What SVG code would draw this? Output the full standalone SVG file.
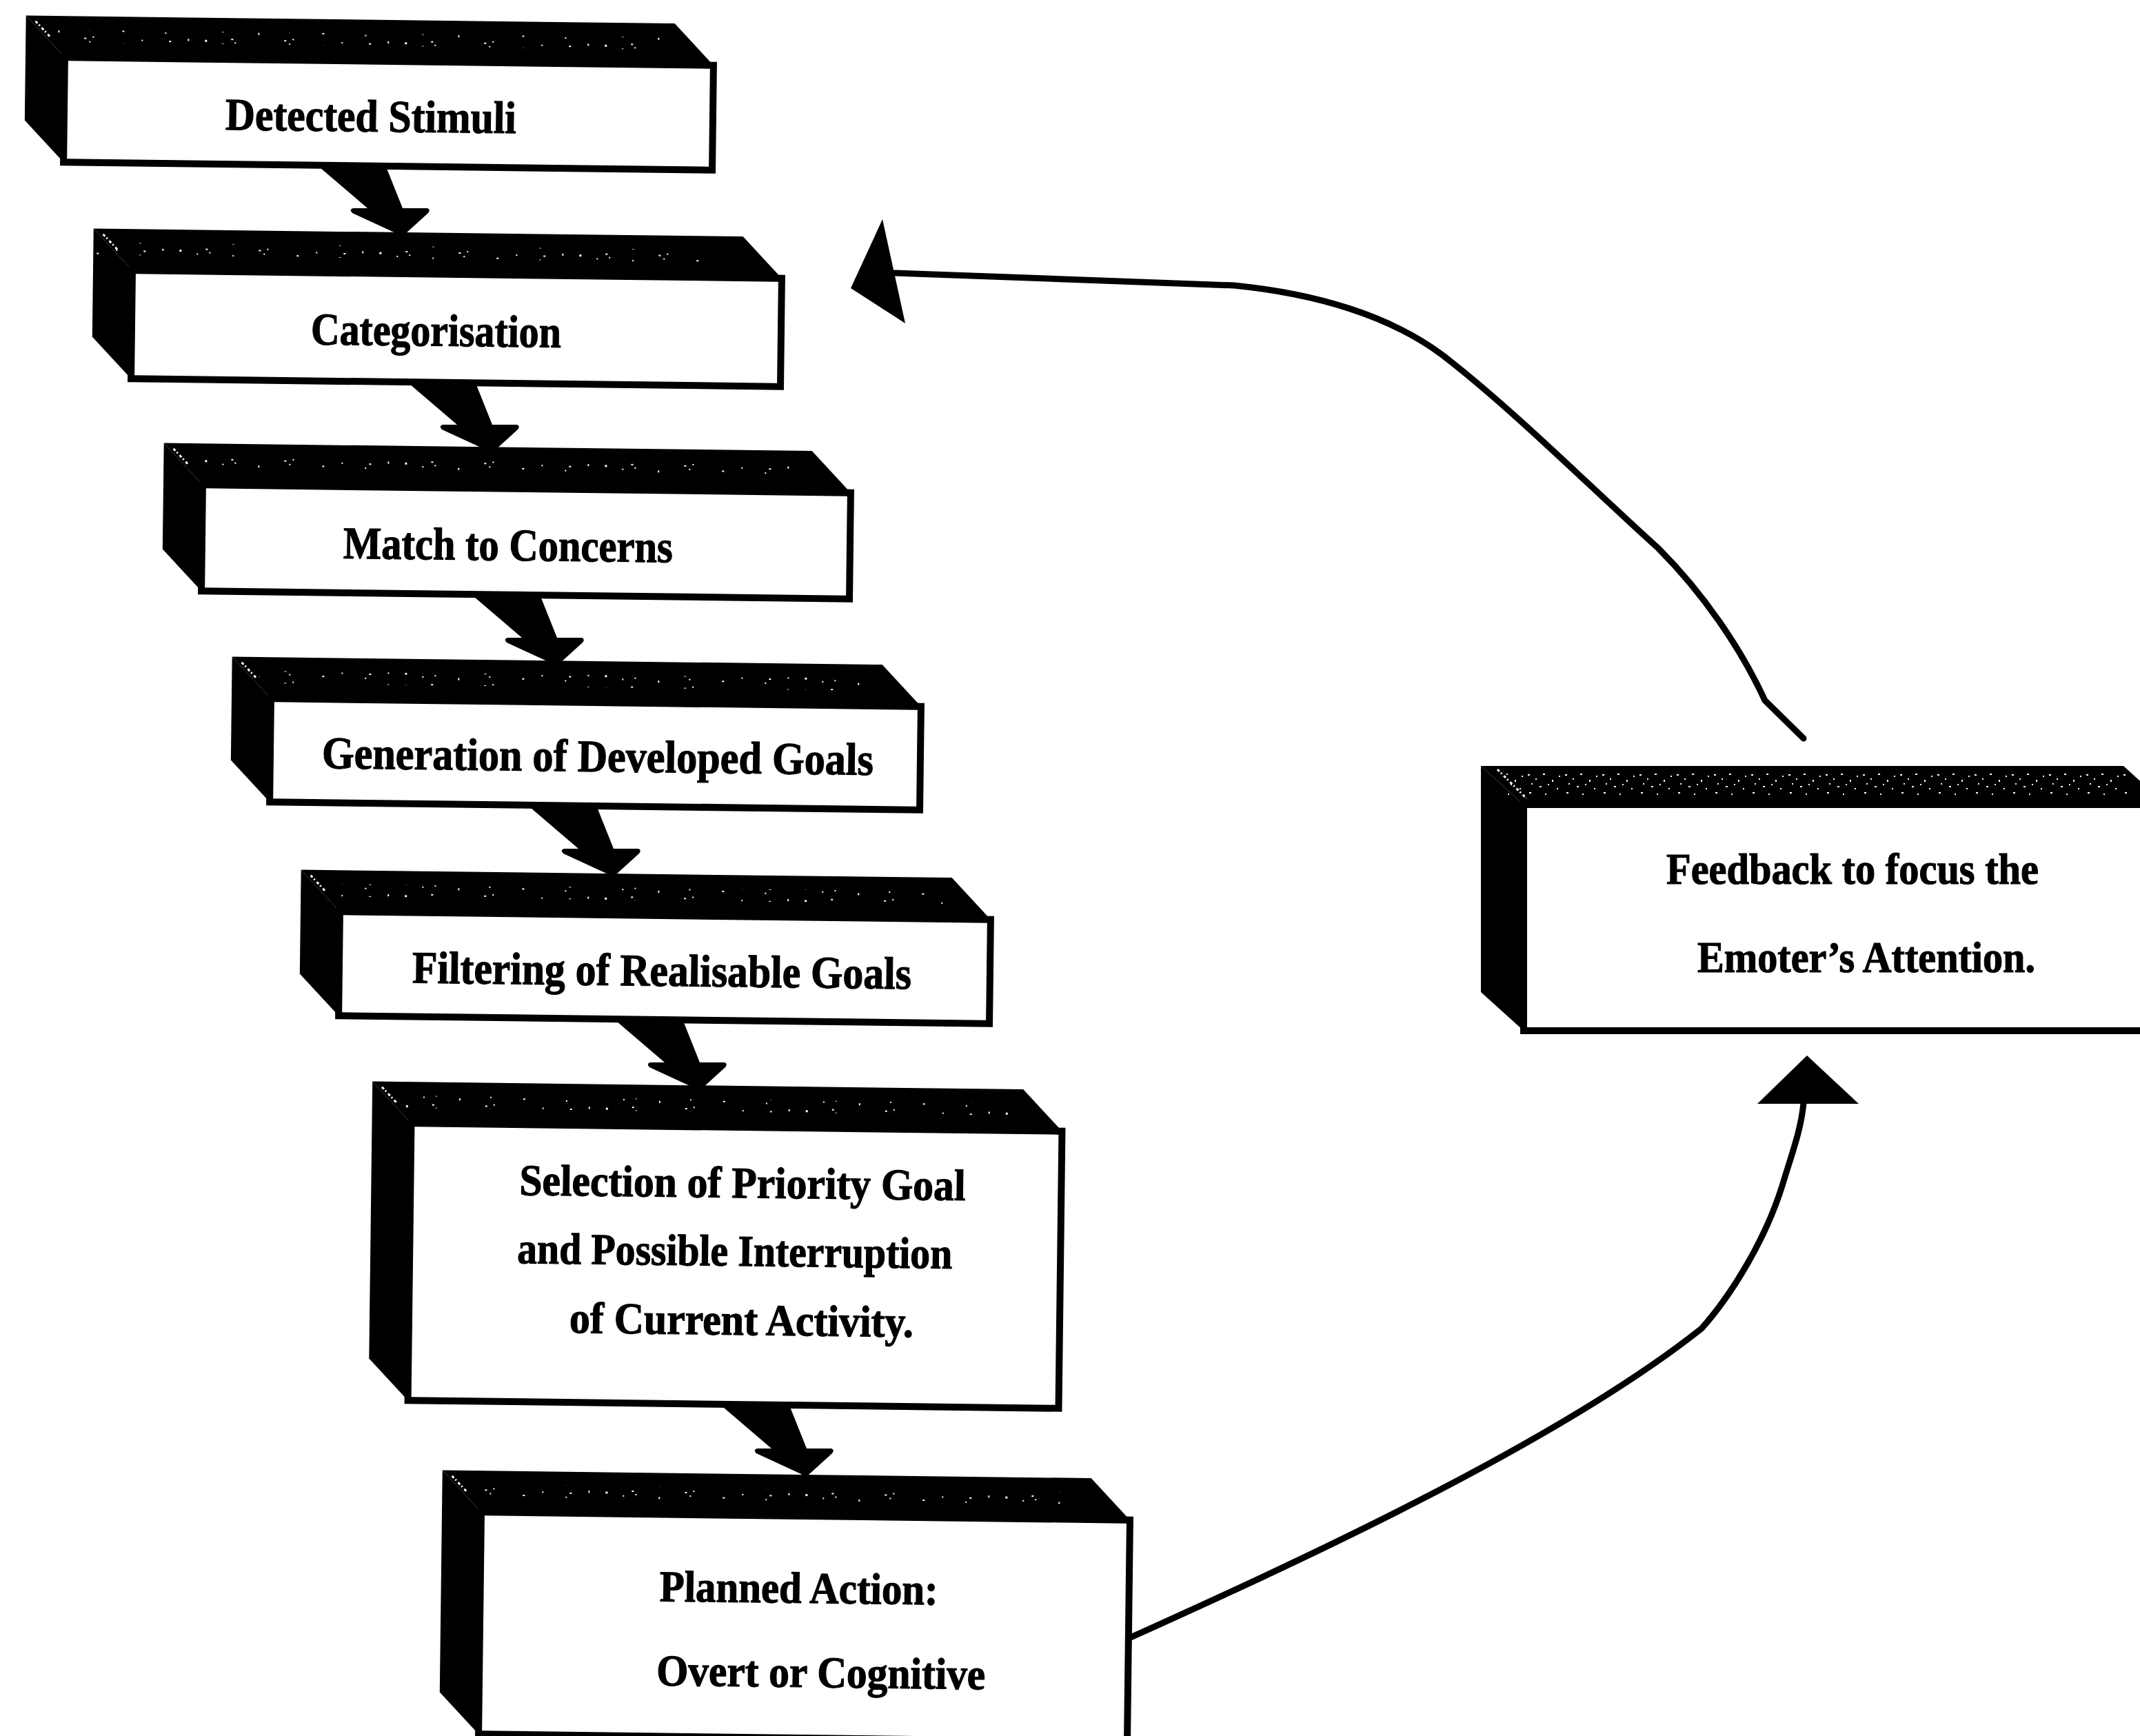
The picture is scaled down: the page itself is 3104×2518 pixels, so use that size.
<svg xmlns="http://www.w3.org/2000/svg" xmlns:xlink="http://www.w3.org/1999/xlink" width="3104" height="2518" viewBox="0 0 3104 2518">
  <defs>
    <style>
      .face { fill: #000; }
      .front { fill: #fff; stroke: #000; stroke-width: 10; }
      .lbl { font-family: "Liberation Serif", "Times New Roman", serif; font-weight: bold; font-size: 66px; fill: #000; stroke: #000; stroke-width: 1.2; }
      .lbl2 { font-family: "Liberation Serif", "Times New Roman", serif; font-weight: bold; font-size: 64px; fill: #000; stroke: #000; stroke-width: 1.2; }
      .hi { stroke: #fff; stroke-width: 3; stroke-dasharray: 4 3 2 4; fill: none; }
      .curve { fill: none; stroke: #000; stroke-width: 9; stroke-linecap: round; stroke-linejoin: round; }
    </style>
    <!-- sparse, irregular white speckle used on the bevelled top faces -->
    <pattern id="speckle" width="290" height="18" patternUnits="userSpaceOnUse">
      <rect x="6" y="7" width="3" height="3" fill="#fff"/>
      <rect x="31" y="12" width="2" height="2" fill="#fff"/>
      <rect x="44" y="5" width="3" height="2" fill="#fff"/>
      <rect x="49" y="10" width="2" height="2" fill="#fff"/>
      <rect x="83" y="14" width="2" height="3" fill="#fff"/>
      <rect x="121" y="6" width="3" height="2" fill="#fff"/>
      <rect x="128" y="11" width="2" height="2" fill="#fff"/>
      <rect x="133" y="4" width="2" height="2" fill="#fff"/>
      <rect x="176" y="13" width="3" height="2" fill="#fff"/>
      <rect x="204" y="8" width="2" height="2" fill="#fff"/>
      <rect x="238" y="15" width="2" height="2" fill="#fff"/>
      <rect x="244" y="9" width="3" height="2" fill="#fff"/>
      <rect x="271" y="6" width="2" height="3" fill="#fff"/>
    </pattern>
    <!-- denser speckle for the feedback box top -->
    <pattern id="speckleDense" width="54" height="40" patternUnits="userSpaceOnUse">
      <rect x="2" y="3" width="3" height="2" fill="#fff"/>
      <rect x="13" y="9" width="2" height="2" fill="#fff"/>
      <rect x="24" y="2" width="3" height="2" fill="#fff"/>
      <rect x="37" y="11" width="2" height="3" fill="#fff"/>
      <rect x="47" y="5" width="2" height="2" fill="#fff"/>
      <rect x="7" y="16" width="2" height="2" fill="#fff"/>
      <rect x="19" y="20" width="3" height="2" fill="#fff"/>
      <rect x="31" y="17" width="2" height="2" fill="#fff"/>
      <rect x="44" y="23" width="2" height="2" fill="#fff"/>
      <rect x="4" y="29" width="3" height="2" fill="#fff"/>
      <rect x="27" y="31" width="2" height="2" fill="#fff"/>
      <rect x="50" y="34" width="2" height="2" fill="#fff"/>
    </pattern>
    <!-- fat 3-D style step arrow, origin at top-left of the shaft -->
    <path id="fat-arrow" d="M0,-6 L101,-6 L127,59 L163,59 Q168,61 164,66 L131,96 L125,102 L119,96 L54,66 Q49,61 55,59 L76,59 Z"/>
  </defs>

  <rect width="3104" height="2518" fill="#fff"/>

  <!-- step boxes, left column -->
  <g id="detected-stimuli" transform="rotate(0.7 563 165)">
    <polygon class="face" points="36,29 977,29 1034,89 93,89"/>
    <polygon class="face" points="36,29 93,89 93,241 36,181"/>
    <rect x="76" y="49" width="890" height="18" fill="url(#speckle)"/>
    <line class="hi" x1="50" y1="37" x2="72" y2="60"/>
    <rect class="front" x="93" y="89" width="941" height="152"/>
    <text class="lbl" x="327" y="191" textLength="422" lengthAdjust="spacingAndGlyphs">Detected Stimuli</text>
  </g>

  <g id="categorisation" transform="rotate(0.7 662 476)">
    <polygon class="face" points="134,338 1076,338 1133,398 191,398"/>
    <polygon class="face" points="134,338 191,398 191,555 134,495"/>
    <rect x="174" y="358" width="890" height="18" fill="url(#speckle)" transform="translate(-37 0)"/>
    <line class="hi" x1="148" y1="346" x2="170" y2="369"/>
    <rect class="front" x="191" y="398" width="942" height="157"/>
    <text class="lbl" x="451" y="502" textLength="363" lengthAdjust="spacingAndGlyphs">Categorisation</text>
  </g>

  <g id="match-to-concerns" transform="rotate(0.7 763 786)">
    <polygon class="face" points="236,649 1176,649 1233,709 293,709"/>
    <polygon class="face" points="236,649 293,709 293,863 236,803"/>
    <rect x="276" y="669" width="888" height="18" fill="url(#speckle)"/>
    <line class="hi" x1="250" y1="657" x2="272" y2="680"/>
    <rect class="front" x="293" y="709" width="940" height="154"/>
    <text class="lbl" x="498" y="813" textLength="478" lengthAdjust="spacingAndGlyphs">Match to Concerns</text>
  </g>

  <g id="developed-goals" transform="rotate(0.7 863 1094)">
    <polygon class="face" points="335,959 1278,959 1335,1019 392,1019"/>
    <polygon class="face" points="335,959 392,1019 392,1169 335,1109"/>
    <rect x="375" y="979" width="890" height="18" fill="url(#speckle)"/>
    <line class="hi" x1="349" y1="967" x2="371" y2="990"/>
    <rect class="front" x="392" y="1019" width="943" height="150"/>
    <text class="lbl" x="467" y="1119" textLength="800" lengthAdjust="spacingAndGlyphs">Generation of Developed Goals</text>
  </g>

  <g id="realisable-goals" transform="rotate(0.7 964 1403)">
    <polygon class="face" points="435,1268 1379,1268 1436,1328 492,1328"/>
    <polygon class="face" points="435,1268 492,1328 492,1479 435,1419"/>
    <rect x="475" y="1288" width="892" height="18" fill="url(#speckle)"/>
    <line class="hi" x1="449" y1="1276" x2="471" y2="1299"/>
    <rect class="front" x="492" y="1328" width="944" height="151"/>
    <text class="lbl" x="598" y="1430" textLength="724" lengthAdjust="spacingAndGlyphs">Filtering of Realisable Goals</text>
  </g>

  <g id="priority-goal" transform="rotate(0.7 1066 1836)">
    <polygon class="face" points="537,1575 1481,1575 1538,1635 594,1635"/>
    <polygon class="face" points="537,1575 594,1635 594,2037 537,1977"/>
    <rect x="577" y="1595" width="892" height="18" fill="url(#speckle)"/>
    <line class="hi" x1="551" y1="1583" x2="573" y2="1606"/>
    <rect class="front" x="594" y="1635" width="944" height="402"/>
    <text class="lbl2" x="752" y="1737" textLength="647" lengthAdjust="spacingAndGlyphs">Selection of Priority Goal</text>
    <text class="lbl2" x="750" y="1836" textLength="631" lengthAdjust="spacingAndGlyphs">and Possible Interruption</text>
    <text class="lbl2" x="827" y="1936" textLength="499" lengthAdjust="spacingAndGlyphs">of Current Activity.</text>
  </g>

  <g id="planned-action" transform="rotate(0.7 1166 2360)">
    <polygon class="face" points="639,2139 1580,2139 1637,2199 696,2199"/>
    <polygon class="face" points="639,2139 696,2199 696,2521 639,2461"/>
    <rect x="679" y="2159" width="889" height="18" fill="url(#speckle)"/>
    <line class="hi" x1="653" y1="2147" x2="675" y2="2170"/>
    <rect class="front" x="696" y="2199" width="941" height="322"/>
    <text class="lbl2" x="956" y="2325" textLength="404" lengthAdjust="spacingAndGlyphs">Planned Action:</text>
    <text class="lbl2" x="953" y="2447" textLength="477" lengthAdjust="spacingAndGlyphs">Overt or Cognitive</text>
  </g>

  <!-- feedback box, right side -->
  <g id="feedback">
    <polygon class="face" points="2148,1111 3080,1111 3142,1167 2210,1167"/>
    <polygon class="face" points="2148,1111 2210,1167 2210,1495 2148,1439"/>
    <rect x="2185" y="1117" width="900" height="36" fill="url(#speckleDense)"/>
    <line class="hi" x1="2172" y1="1116" x2="2214" y2="1158"/>
    <rect class="front" x="2210" y="1167" width="932" height="328"/>
    <text class="lbl2" x="2417" y="1282" textLength="540" lengthAdjust="spacingAndGlyphs">Feedback to focus the</text>
    <text class="lbl2" x="2462" y="1410" textLength="490" lengthAdjust="spacingAndGlyphs">Emoter’s Attention.</text>
  </g>

  <!-- connectors -->
  <g id="connectors">
    <use href="#fat-arrow" xlink:href="#fat-arrow" transform="translate(457,243)"/>
    <use href="#fat-arrow" xlink:href="#fat-arrow" transform="translate(587,557)"/>
    <use href="#fat-arrow" xlink:href="#fat-arrow" transform="translate(681,866)"/>
    <use href="#fat-arrow" xlink:href="#fat-arrow" transform="translate(763,1172)"/>
    <use href="#fat-arrow" xlink:href="#fat-arrow" transform="translate(888,1482)"/>
    <use href="#fat-arrow" xlink:href="#fat-arrow" transform="translate(1043,2042)"/>

    <!-- feedback loop back to categorisation -->
    <path class="curve" d="M2616,1071 L2560,1016 C2525,940 2470,860 2405,795 C2300,700 2200,600 2105,525 C2020,455 1900,425 1790,414 L1298,396"/>
    <polygon points="1280,318 1313,469 1234,418" fill="#000"/>

    <!-- planned action up to feedback -->
    <path class="curve" d="M1640,2375 C1850,2280 2250,2100 2468,1927 C2510,1880 2560,1800 2585,1720 C2600,1670 2612,1640 2616,1600"/>
    <polygon points="2621,1531 2696,1601 2549,1601" fill="#000"/>
  </g>
</svg>
